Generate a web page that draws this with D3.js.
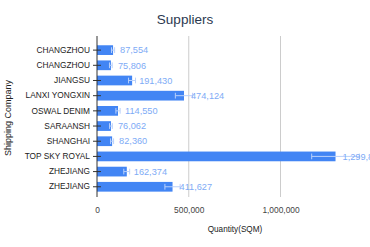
<!DOCTYPE html>
<html>
<head>
<meta charset="utf-8">
<script src="https://cdn.jsdelivr.net/npm/d3@7"></script>
<style>
  body { margin: 0; background: #fff; }
  text { font-family: "Liberation Sans", Arial, sans-serif; }
</style>
</head>
<body>
<svg width="370" height="247"></svg>
<script>
// data
var companies = ["CHANGZHOU", "CHANGZHOU", "JIANGSU", "LANXI YONGXIN", "OSWAL DENIM",
                 "SARAANSH", "SHANGHAI", "TOP SKY ROYAL", "ZHEJIANG", "ZHEJIANG"];
var quantity = [87554, 75806, 191430, 474124, 114550, 76062, 82360, 1299850, 162374, 411627];
// interval (whisker) ends
var lowEnd  = [79000, 68000, 172000, 427000, 103000, 68500, 74000, 1170000, 146000, 370000];
var highEnd = [96000, 83000, 210000, 521000, 126000, 83500, 90500, 1430000, 178000, 453000];
var xTicks = [0, 500000, 1000000];

var svg = d3.select("svg"),
    width = +svg.attr("width"),
    height = +svg.attr("height");

var x = d3.scaleLinear().domain([0, 1000000]).range([97, 280.5]);
var y = d3.scaleBand()
    .domain(d3.range(companies.length))
    .range([39.8, 197.1])
    .padding(0.36);

// title
svg.append("text")
    .attr("x", 185).attr("y", 24)
    .attr("text-anchor", "middle")
    .attr("font-size", 13.5)
    .attr("fill", "#2b3950")
    .text("Suppliers");

// gridlines
svg.append("g")
  .selectAll("line")
  .data(xTicks.slice(1))
  .enter().append("line")
    .attr("x1", function(d) { return x(d); })
    .attr("x2", function(d) { return x(d); })
    .attr("y1", 36).attr("y2", 197)
    .attr("stroke", "#cccccc");

// bars
svg.append("g")
  .selectAll("rect")
  .data(quantity)
  .enter().append("rect")
    .attr("x", x(0))
    .attr("y", function(d, i) { return y(i); })
    .attr("width", function(d) { return x(d) - x(0); })
    .attr("height", y.bandwidth())
    .attr("fill", "#4285f4");

// intervals
var iv = svg.append("g").selectAll("g")
  .data(quantity)
  .enter().append("g")
    .attr("stroke", "#b9d0fb")
    .attr("stroke-width", 1);
iv.append("line")
    .attr("x1", function(d, i) { return x(lowEnd[i]); })
    .attr("x2", function(d, i) { return x(highEnd[i]); })
    .attr("y1", function(d, i) { return y(i) + y.bandwidth() / 2; })
    .attr("y2", function(d, i) { return y(i) + y.bandwidth() / 2; });
iv.selectAll(".wh")
  .data(function(d, i) { return [[lowEnd[i], i], [highEnd[i], i]]; })
  .enter().append("line")
    .attr("x1", function(d) { return x(d[0]); })
    .attr("x2", function(d) { return x(d[0]); })
    .attr("y1", function(d) { return y(d[1]) + 2; })
    .attr("y2", function(d) { return y(d[1]) + y.bandwidth() - 2; });

// value labels
svg.append("g")
  .selectAll("text")
  .data(quantity)
  .enter().append("text")
    .attr("x", function(d) { return x(d) + 7; })
    .attr("y", function(d, i) { return y(i) + y.bandwidth() / 2; })
    .attr("dy", "0.35em")
    .attr("font-size", 9.2)
    .attr("fill", "#7eabf6")
    .text(function(d) { return d3.format(",")(d); });

// y axis
var yAxis = svg.append("g")
    .attr("transform", "translate(" + x(0) + ",0)")
    .call(d3.axisLeft(y)
        .tickSize(4).tickPadding(3)
        .tickFormat(function(i) { return companies[i]; }));
yAxis.select(".domain").remove();
yAxis.selectAll(".tick line").attr("x1", -4).attr("x2", 4).attr("stroke", "#333");
yAxis.selectAll(".tick text")
    .attr("font-size", 8.3)
    .attr("fill", "#222")
    .attr("font-family", "Liberation Sans, Arial, sans-serif");
yAxis.append("line")
    .attr("x1", 0).attr("x2", 0)
    .attr("y1", 36).attr("y2", 197)
    .attr("stroke", "#333");

// x axis labels
var xAxis = svg.append("g")
    .attr("transform", "translate(0,197)")
    .call(d3.axisBottom(x).tickValues(xTicks).tickSize(0).tickPadding(10)
        .tickFormat(d3.format(",")));
xAxis.select(".domain").remove();
xAxis.selectAll(".tick text")
    .attr("font-size", 8.4)
    .attr("fill", "#444")
    .attr("font-family", "Liberation Sans, Arial, sans-serif");

// axis titles
svg.append("text")
    .attr("x", 235).attr("y", 232)
    .attr("text-anchor", "middle")
    .attr("font-size", 8.2)
    .attr("fill", "#222")
    .text("Quantity(SQM)");

svg.append("text")
    .attr("transform", "translate(11,118) rotate(-90)")
    .attr("text-anchor", "middle")
    .attr("font-size", 9)
    .attr("fill", "#222")
    .text("Shipping Company");
</script>
</body>
</html>
